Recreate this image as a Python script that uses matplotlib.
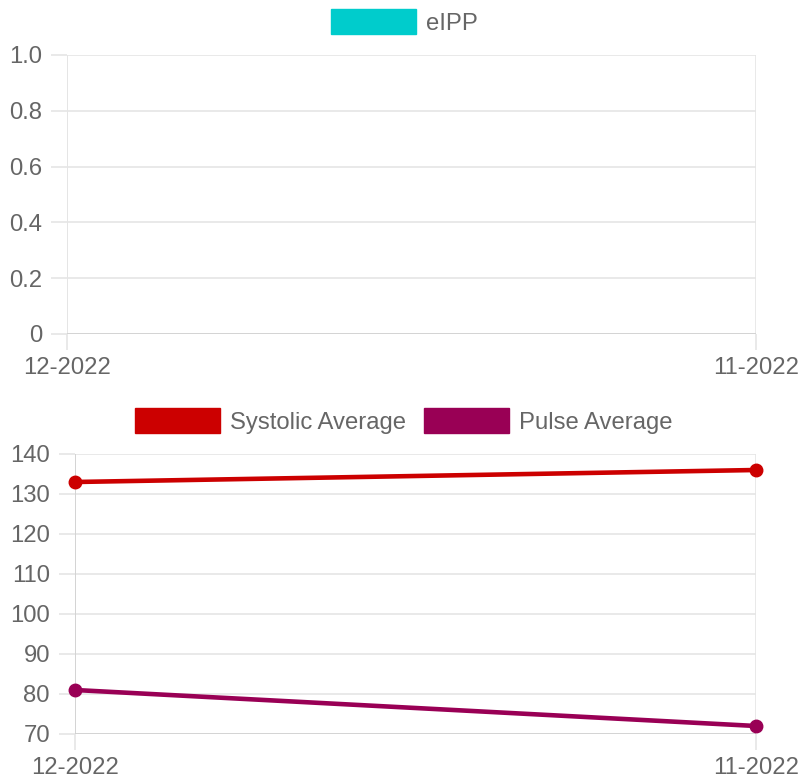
import matplotlib
matplotlib.use("Agg")
import matplotlib.pyplot as plt
from matplotlib.patches import Patch

plt.rcParams['font.family'] = ['Liberation Sans', 'DejaVu Sans']

months = ["12-2022", "11-2022"]
eipp_values = []
systolic_avg = [133, 136]
pulse_avg = [81, 72]
top_yticks = [0, 0.2, 0.4, 0.6, 0.8, 1.0]
top_yticklabels = ["0", "0.2", "0.4", "0.6", "0.8", "1.0"]
bottom_yticks = [70, 80, 90, 100, 110, 120, 130, 140]

TEXT = "#666666"
GRID = "#e5e5e5"
TEAL = "#00cccc"
RED = "#cc0000"
PURPLE = "#990055"
FS = 17.2
FSPX = FS * 100 / 72

W, H = 804, 784
fig = plt.figure(figsize=(W / 100, H / 100), dpi=100)

def style(ax):
    for s in ax.spines.values():
        s.set_visible(False)
    ax.grid(True, color=GRID, linewidth=1.2)
    ax.tick_params(axis='both', colors=GRID, labelcolor=TEXT, labelsize=FS,
                   length=11.5, width=1.2)
    ax.tick_params(axis='y', pad=6.5)
    ax.tick_params(axis='x', pad=5)
    ax.set_axisbelow(True)

def legend(ax, handles, top_px):
    ax.legend(handles=handles, loc='lower center',
              bbox_to_anchor=(404 / W, 1 - top_px / H),
              bbox_transform=fig.transFigure,
              ncol=len(handles), frameon=False, fontsize=FS, labelcolor=TEXT,
              handlelength=85 / FSPX, handleheight=29 / FSPX,
              handletextpad=10 / FSPX, columnspacing=18 / FSPX,
              borderaxespad=0.45)

# Top chart
ax1 = fig.add_axes([67 / W, 1 - 334 / H, (756 - 67) / W, (334 - 55) / H])
x = list(range(len(months)))
if eipp_values:
    ax1.bar(x, eipp_values, color=TEAL)
ax1.set_xlim(0, len(months) - 1)
ax1.set_ylim(0, 1)
ax1.set_yticks(top_yticks)
ax1.set_yticklabels(top_yticklabels)
ax1.set_xticks(x)
ax1.set_xticklabels(months)
style(ax1)
ax1.axvline(0, color=GRID, linewidth=1.2)
ax1.axhline(0, color="#d0d0d0", linewidth=1.2)
legend(ax1, [Patch(facecolor=TEAL, edgecolor=TEAL, label="eIPP")], 55)

# Bottom chart
ax2 = fig.add_axes([75 / W, 1 - 734 / H, (756 - 75) / W, (734 - 454) / H])
ax2.plot(x, systolic_avg, color=RED, linewidth=3.3, marker='o', markersize=9,
         label="Systolic Average", clip_on=False, zorder=3)
ax2.plot(x, pulse_avg, color=PURPLE, linewidth=3.3, marker='o', markersize=9,
         label="Pulse Average", clip_on=False, zorder=3)
ax2.set_xlim(0, len(months) - 1)
ax2.set_ylim(70, 140)
ax2.set_yticks(bottom_yticks)
ax2.set_xticks(x)
ax2.set_xticklabels(months)
style(ax2)
ax2.axvline(0, color="#d0d0d0", linewidth=1.2)
ax2.axhline(70, color="#d0d0d0", linewidth=1.2)
legend(ax2, [Patch(facecolor=RED, edgecolor=RED, label="Systolic Average"),
             Patch(facecolor=PURPLE, edgecolor=PURPLE, label="Pulse Average")], 454)

fig.savefig("out.png", dpi=100)
